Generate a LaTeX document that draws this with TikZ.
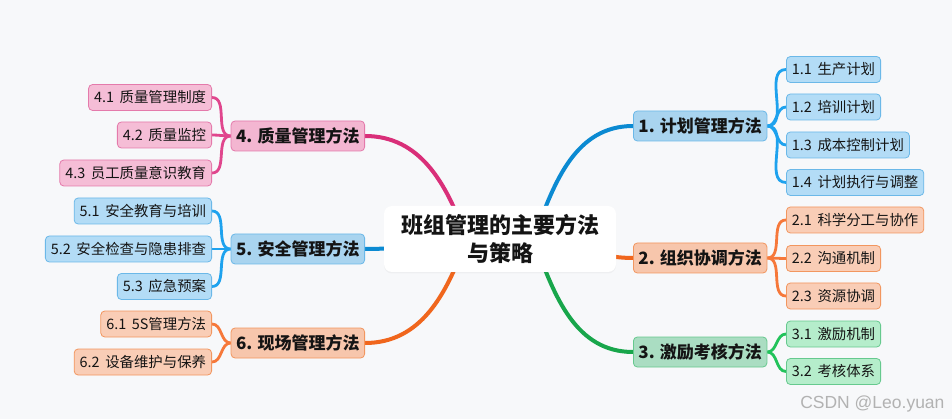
\documentclass[tikz,border=0pt]{standalone}
\usepackage{fontspec}
\setmainfont{Noto Sans CJK SC}
\newfontfamily\markfont{Liberation Sans}
\usetikzlibrary{backgrounds,shadows}

\definecolor{bgcol}{HTML}{F7F8FA}
\definecolor{bluetop}{HTML}{A9D4EF}
\definecolor{blueleaf}{HTML}{B3DCF6}
\definecolor{blueedge}{HTML}{6BB8E8}
\definecolor{blueline}{HTML}{0B8AD2}
\definecolor{bluetwig}{HTML}{1EA2EE}
\definecolor{orangetop}{HTML}{F7C6AC}
\definecolor{orangeleaf}{HTML}{F9CDB6}
\definecolor{orangeedge}{HTML}{F2965F}
\definecolor{orangeline}{HTML}{F0661D}
\definecolor{orangetwig}{HTML}{F6783A}
\definecolor{greentop}{HTML}{AADDC2}
\definecolor{greenleaf}{HTML}{B5EDCB}
\definecolor{greenedge}{HTML}{66C98E}
\definecolor{greenline}{HTML}{18A64B}
\definecolor{greentwig}{HTML}{22C35B}
\definecolor{pinktop}{HTML}{F3B6D1}
\definecolor{pinkleaf}{HTML}{F5BDD6}
\definecolor{pinkedge}{HTML}{E47AAB}
\definecolor{pinkline}{HTML}{D92F79}
\definecolor{pinktwig}{HTML}{E0468D}

\begin{document}
\begin{tikzpicture}[x=1pt,y=1pt,line cap=round,text=black!92]
  \tikzstyle{root}=[fill=white,rounded corners=8pt,minimum width=232pt,
    minimum height=66pt,align=center,font=\bfseries\fontsize{22}{28}\selectfont,
    drop shadow={opacity=0.07,shadow xshift=0pt,shadow yshift=-1.5pt}]
  \tikzstyle{topic}=[draw,line width=0.8pt,rounded corners=4pt,minimum height=30pt,
    inner xsep=5pt,font=\bfseries\fontsize{17}{20}\selectfont]
  \tikzstyle{leaf}=[draw,line width=0.8pt,rounded corners=4pt,minimum height=26pt,
    inner xsep=5.5pt,font=\fontsize{14.4}{16}\selectfont]
  \tikzstyle{tblue}=[topic,fill=bluetop,draw=blueedge]
  \tikzstyle{lblue}=[leaf,fill=blueleaf,draw=blueedge]
  \tikzstyle{torange}=[topic,fill=orangetop,draw=orangeedge]
  \tikzstyle{lorange}=[leaf,fill=orangeleaf,draw=orangeedge]
  \tikzstyle{tgreen}=[topic,fill=greentop,draw=greenedge]
  \tikzstyle{lgreen}=[leaf,fill=greenleaf,draw=greenedge]
  \tikzstyle{tpink}=[topic,fill=pinktop,draw=pinkedge]
  \tikzstyle{lpink}=[leaf,fill=pinkleaf,draw=pinkedge]
  \tikzstyle{branch}=[line width=4pt]
  \tikzstyle{twig}=[line width=2.8pt]
  \tikzstyle{rt}=[out=0,in=180]
  \tikzstyle{lt}=[out=180,in=0]

  \node[root] (ctr) at (500,-239) {班组管理的主要方法\\与策略};

  \node[tblue,anchor=west]   (t1) at (633,-126) {1. 计划管理方法};
  \node[torange,anchor=west] (t2) at (633,-258) {2. 组织协调方法};
  \node[tgreen,anchor=west]  (t3) at (633,-352) {3. 激励考核方法};
  \node[tpink,anchor=east]   (t4) at (365,-136) {4. 质量管理方法};
  \node[tblue,anchor=east]   (t5) at (365,-249) {5. 安全管理方法};
  \node[torange,anchor=east] (t6) at (365,-343) {6. 现场管理方法};

  \node[lblue,anchor=west] (l11) at (786,-69.5) {1.1\, 生产计划};
  \node[lblue,anchor=west] (l12) at (786,-107) {1.2\, 培训计划};
  \node[lblue,anchor=west] (l13) at (786,-145) {1.3\, 成本控制计划};
  \node[lblue,anchor=west] (l14) at (786,-182.5) {1.4\, 计划执行与调整};
  \node[lorange,anchor=west] (l21) at (786,-220) {2.1\, 科学分工与协作};
  \node[lorange,anchor=west] (l22) at (786,-258.5) {2.2\, 沟通机制};
  \node[lorange,anchor=west] (l23) at (786,-296) {2.3\, 资源协调};
  \node[lgreen,anchor=west] (l31) at (786,-334) {3.1\, 激励机制};
  \node[lgreen,anchor=west] (l32) at (786,-371.5) {3.2\, 考核体系};

  \node[lpink,anchor=east] (l41) at (212,-97.5) {4.1\, 质量管理制度};
  \node[lpink,anchor=east] (l42) at (212,-135) {4.2\, 质量监控};
  \node[lpink,anchor=east] (l43) at (212,-173) {4.3\, 员工质量意识教育};
  \node[lblue,anchor=east] (l51) at (212,-211) {5.1\, 安全教育与培训};
  \node[lblue,anchor=east] (l52) at (212,-249) {5.2\, 安全检查与隐患排查};
  \node[lblue,anchor=east] (l53) at (212,-286.5) {5.3\, 应急预案};
  \node[lorange,anchor=east] (l61) at (212,-324) {6.1\, 5S管理方法};
  \node[lorange,anchor=east] (l62) at (212,-362) {6.2\, 设备维护与保养};

  \node[anchor=base east,text=black!30,font=\markfont\fontsize{17.5}{20}\selectfont]
    (mark) at (948,-408) {CSDN @Leo.yuan};

  \coordinate (c1) at (535,-235);
  \coordinate (c2) at (560,-247);
  \coordinate (c3) at (535,-243);
  \coordinate (c4) at (465,-235);
  \coordinate (c5) at (440,-246);
  \coordinate (c6) at (465,-243);

  \begin{scope}[on background layer]
    \fill[bgcol] (0,0) rectangle (952,-419);
    \path[branch,color=blueline]   (c1) edge[out=70,in=180] (t1.west);
    \path[branch,color=orangeline] (c2) edge[out=-5,in=180] (t2.west);
    \path[branch,color=greenline]  (c3) edge[out=-70,in=180] (t3.west);
    \path[branch,color=pinkline]   (c4) edge[out=110,in=0] (t4.east);
    \path[branch,color=blueline]   (c5) edge[out=180,in=0] (t5.east);
    \path[branch,color=orangeline] (c6) edge[out=-110,in=0] (t6.east);

    \path[twig,color=bluetwig] (t1.east) edge[rt] (l11.west) edge[rt] (l12.west)
                                         edge[rt] (l13.west) edge[rt] (l14.west);
    \path[twig,color=orangetwig] (t2.east) edge[rt] (l21.west) edge[rt] (l22.west)
                                           edge[rt] (l23.west);
    \path[twig,color=greentwig] (t3.east) edge[rt] (l31.west) edge[rt] (l32.west);
    \path[twig,color=pinktwig] (t4.west) edge[lt] (l41.east) edge[lt] (l42.east)
                                         edge[lt] (l43.east);
    \path[twig,color=bluetwig] (t5.west) edge[lt] (l51.east) edge[lt] (l52.east)
                                         edge[lt] (l53.east);
    \path[twig,color=orangetwig] (t6.west) edge[lt] (l61.east) edge[lt] (l62.east);
  \end{scope}
\end{tikzpicture}
\end{document}
